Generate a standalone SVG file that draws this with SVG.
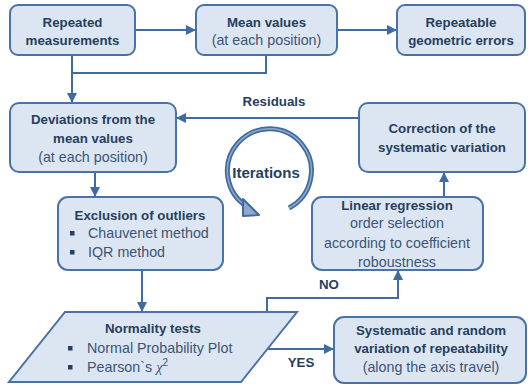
<svg xmlns="http://www.w3.org/2000/svg" width="528" height="386" viewBox="0 0 528 386">
<style>
.box{fill:#dce6f2;stroke:#4a72a6;stroke-width:2}
.b{font-family:"Liberation Sans",Arial,sans-serif;font-weight:bold;font-size:13.3px;fill:#263f5e;text-anchor:middle}
.r{font-family:"Liberation Sans",Arial,sans-serif;font-size:14.3px;fill:#3d5573;text-anchor:middle}
.l{font-family:"Liberation Sans",Arial,sans-serif;font-size:14.3px;fill:#3d5573}
.bul{fill:#263f5e}
.c{fill:none;stroke:#3f6ba0;stroke-width:2}
</style>
<defs>
<marker id="ah" viewBox="0 0 10 10" refX="9" refY="5" markerWidth="5" markerHeight="5" orient="auto" markerUnits="strokeWidth">
<path d="M0,0 L10,5 L0,10 z" fill="#3f6ba0"/>
</marker>
</defs>
<g id="connectors">
<path class="c" d="M135,30 H195" marker-end="url(#ah)"/>
<path class="c" d="M337,30 H396" marker-end="url(#ah)"/>
<path class="c" d="M72,55 V102" marker-end="url(#ah)"/>
<path class="c" d="M266,55 V73 H72"/>
<path class="c" d="M359,118 H177" marker-end="url(#ah)"/>
<path class="c" d="M95,172 V196" marker-end="url(#ah)"/>
<path class="c" d="M142,270 V311" marker-end="url(#ah)"/>
<path class="c" d="M444,197 V173" marker-end="url(#ah)"/>
<path class="c" d="M267,312 V298 H398 V271" marker-end="url(#ah)"/>
<path class="c" d="M267,349 H333" marker-end="url(#ah)"/>
<text class="b" x="274" y="106">Residuals</text>
<text class="b" x="329" y="289">NO</text>
<text class="b" x="301" y="367">YES</text>
</g>
<g id="iterations">
<path d="M289,208 A42,42 0 1 0 248,207" fill="none" stroke="#3f6ba0" stroke-width="5"/>
<path d="M289,208 A42,42 0 1 0 248,207" fill="none" stroke="#8fa9c9" stroke-width="1.5"/>
<polygon points="243,199 259,215 243,216" fill="#8fa9c9" stroke="#3f6ba0" stroke-width="2" stroke-linejoin="round"/>
<text class="b" x="266" y="178" style="font-size:15px">Iterations</text>
</g>
<g id="repeated">
<rect class="box" x="10" y="5" width="125" height="50" rx="8"/>
<text class="b" x="72.5" y="27">Repeated</text>
<text class="b" x="72.5" y="45">measurements</text>
</g>
<g id="mean">
<rect class="box" x="196" y="5" width="141" height="50" rx="8"/>
<text class="b" x="266.5" y="27">Mean values</text>
<text class="r" x="266.5" y="45">(at each position)</text>
</g>
<g id="repeatable">
<rect class="box" x="397" y="5" width="128" height="50" rx="8"/>
<text class="b" x="461" y="27">Repeatable</text>
<text class="b" x="461" y="45">geometric errors</text>
</g>
<g id="deviations">
<rect class="box" x="10" y="103" width="166" height="69" rx="9"/>
<text class="b" x="93" y="124">Deviations from the</text>
<text class="b" x="93" y="143">mean values</text>
<text class="r" x="93" y="162">(at each position)</text>
</g>
<g id="correction">
<rect class="box" x="359" y="103" width="166" height="69" rx="9"/>
<text class="b" x="442" y="133">Correction of the</text>
<text class="b" x="442" y="152">systematic variation</text>
</g>
<g id="exclusion">
<rect class="box" x="58" y="197" width="165" height="73" rx="10"/>
<text class="b" x="140" y="220">Exclusion of outliers</text>
<rect class="bul" x="70" y="231" width="4.5" height="4.5"/>
<text class="l" x="88" y="238">Chauvenet method</text>
<rect class="bul" x="70" y="250" width="4.5" height="4.5"/>
<text class="l" x="88" y="257">IQR method</text>
</g>
<g id="regression">
<rect class="box" x="312" y="197" width="171" height="73" rx="10"/>
<text class="b" x="397" y="210">Linear regression</text>
<text class="r" x="397" y="228">order selection</text>
<text class="r" x="397" y="248">according to coefficient</text>
<text class="r" x="397" y="267">roboustness</text>
</g>
<g id="normality">
<polygon class="box" points="65,312 297,312 241,382 9,382"/>
<text class="b" x="153" y="333">Normality tests</text>
<rect class="bul" x="68" y="346" width="4.5" height="4.5"/>
<text class="l" x="87" y="353">Normal Probability Plot</text>
<rect class="bul" x="68" y="365" width="4.5" height="4.5"/>
<text class="l" x="87" y="372">Pearson`s <tspan font-style="italic" font-family="'Liberation Serif',serif">χ</tspan><tspan dy="-6" font-size="10">2</tspan></text>
</g>
<g id="systematic">
<rect class="box" x="334" y="317" width="192" height="66" rx="10"/>
<text class="b" x="431" y="335">Systematic and random</text>
<text class="b" x="431" y="353">variation of repeatability</text>
<text class="r" x="431" y="372">(along the axis travel)</text>
</g>
</svg>
